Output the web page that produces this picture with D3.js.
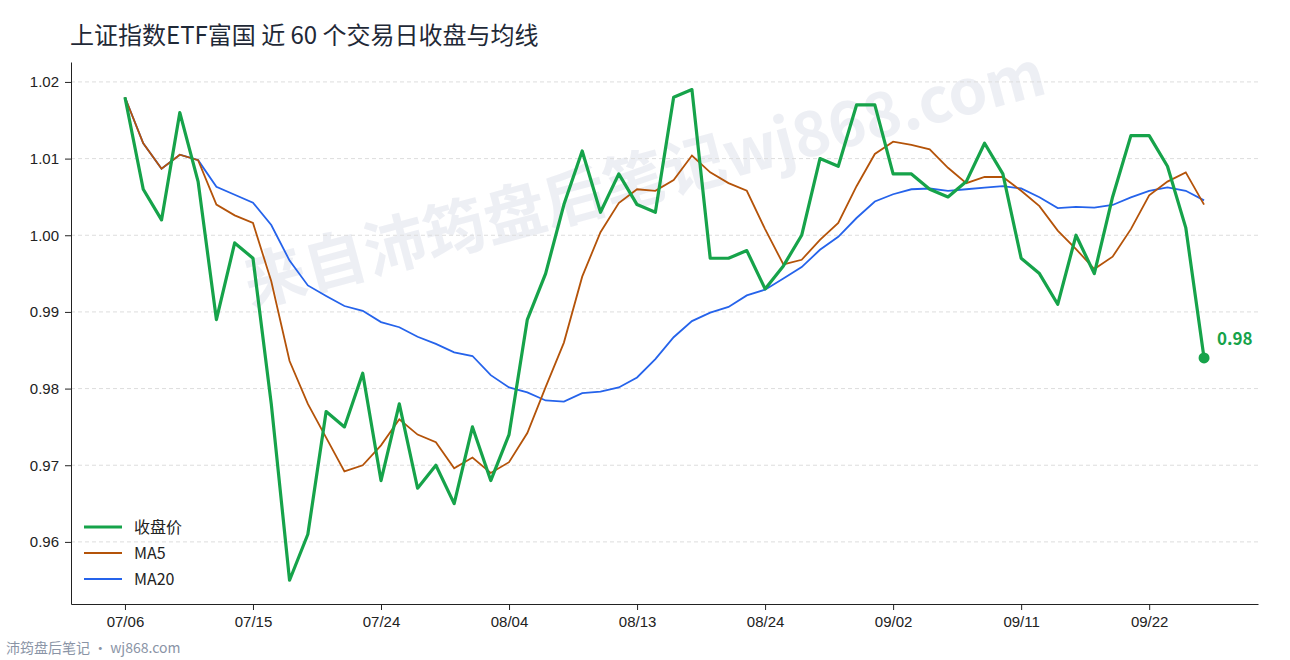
<!DOCTYPE html>
<meta charset="utf-8">
<style>
  body{margin:0;background:#fff;font-family:"Noto Sans CJK SC","Noto Sans",sans-serif;}
  .grid line{stroke:#ddd;stroke-dasharray:4,3;}
  .axis text{font-size:15px;fill:#222;}
  .axis path,.axis line{stroke:#222;}
</style>
<body>
<svg id="chart" width="1290" height="660"></svg>
<script src="https://cdn.jsdelivr.net/npm/d3@7"></script>
<script>
// trading dates (2020), one per close
var dates = ["07/06","07/07","07/08","07/09","07/10","07/13","07/14","07/15","07/16","07/17",
  "07/20","07/21","07/22","07/23","07/24","07/27","07/28","07/29","07/30","07/31",
  "08/03","08/04","08/05","08/06","08/07","08/10","08/11","08/12","08/13","08/14",
  "08/17","08/18","08/19","08/20","08/21","08/24","08/25","08/26","08/27","08/28",
  "08/31","09/01","09/02","09/03","09/04","09/07","09/08","09/09","09/10","09/11",
  "09/14","09/15","09/16","09/17","09/18","09/21","09/22","09/23","09/24","09/28"];
var closes = [1.018,1.006,1.002,1.016,1.007,0.989,0.999,0.997,0.978,0.955,
  0.961,0.977,0.975,0.982,0.968,0.978,0.967,0.970,0.965,0.975,
  0.968,0.974,0.989,0.995,1.004,1.011,1.003,1.008,1.004,1.003,
  1.018,1.019,0.997,0.997,0.998,0.993,0.996,1.000,1.010,1.009,
  1.017,1.017,1.008,1.008,1.006,1.005,1.007,1.012,1.008,0.997,
  0.995,0.991,1.000,0.995,1.005,1.013,1.013,1.009,1.001,0.984];
var yTicks = [0.96,0.97,0.98,0.99,1.00,1.01,1.02];
var xTickIdx = [0,7,14,21,28,35,42,49,56];

function movingAvg(arr, n){
  return arr.map(function(d,i){
    var s = arr.slice(Math.max(0,i-n+1), i+1);
    return d3.mean(s);
  });
}
var ma5 = movingAvg(closes,5), ma20 = movingAvg(closes,20);

var svg = d3.select("#chart");
var m = {l:71, r:1258, t:62, b:604};
var x = d3.scaleLinear().domain([-2.95, 61.95]).range([m.l, m.r]);
var y = d3.scaleLinear().domain([0.9519, 1.0226]).range([m.b, m.t]);

// watermark
svg.append("text").attr("transform","translate(650,200) rotate(-15)")
  .attr("text-anchor","middle").attr("font-size",62).attr("font-weight","bold")
  .attr("fill","#e2e5ee").attr("opacity",0.6).text("来自沛筠盘后笔记wj868.com");

svg.append("g").attr("class","grid").selectAll("line").data(yTicks).enter().append("line")
  .attr("x1",m.l).attr("x2",m.r).attr("y1",y).attr("y2",y);

svg.append("g").attr("class","axis").attr("transform","translate(0,"+m.b+")")
  .call(d3.axisBottom(x).tickValues(xTickIdx).tickFormat(function(i){return dates[i];}).tickSizeOuter(0).tickPadding(6));
svg.append("g").attr("class","axis").attr("transform","translate("+m.l+",0)")
  .call(d3.axisLeft(y).tickValues(yTicks).tickFormat(d3.format(".2f")).tickSizeOuter(0).tickPadding(6));

var line = d3.line().x(function(d,i){return x(i);}).y(function(d){return y(d);});
svg.append("path").datum(ma20).attr("d",line).attr("fill","none").attr("stroke","#2563eb").attr("stroke-width",1.8);
svg.append("path").datum(ma5).attr("d",line).attr("fill","none").attr("stroke","#b45309").attr("stroke-width",1.8);
svg.append("path").datum(closes).attr("d",line).attr("fill","none").attr("stroke","#16a34a").attr("stroke-width",3.2).attr("stroke-linejoin","round");

var last = closes.length-1;
svg.append("circle").attr("cx",x(last)).attr("cy",y(closes[last])).attr("r",5.5).attr("fill","#16a34a");
svg.append("text").attr("x",x(last)+13).attr("y",y(closes[last])-13).attr("font-size",17).attr("font-weight","bold")
  .attr("fill","#16a34a").text(d3.format(".2f")(closes[last]));

svg.append("text").attr("x",70).attr("y",44).attr("font-size",24).attr("fill","#1f2937")
  .text("上证指数ETF富国 近 60 个交易日收盘与均线");

var legend = [["收盘价","#16a34a",3.2],["MA5","#b45309",1.8],["MA20","#2563eb",1.8]];
var lg = svg.append("g").selectAll("g").data(legend).enter().append("g")
  .attr("transform",function(d,i){return "translate(84,"+(527+i*26)+")";});
lg.append("line").attr("x1",0).attr("x2",38).attr("stroke",function(d){return d[1];}).attr("stroke-width",function(d){return d[2];});
lg.append("text").attr("x",50).attr("y",6).attr("font-size",16).attr("fill","#222").text(function(d){return d[0];});

svg.append("text").attr("x",6).attr("y",653).attr("font-size",14).attr("fill","#8a94a6").text("沛筠盘后笔记 · wj868.com");
</script>
</body>
